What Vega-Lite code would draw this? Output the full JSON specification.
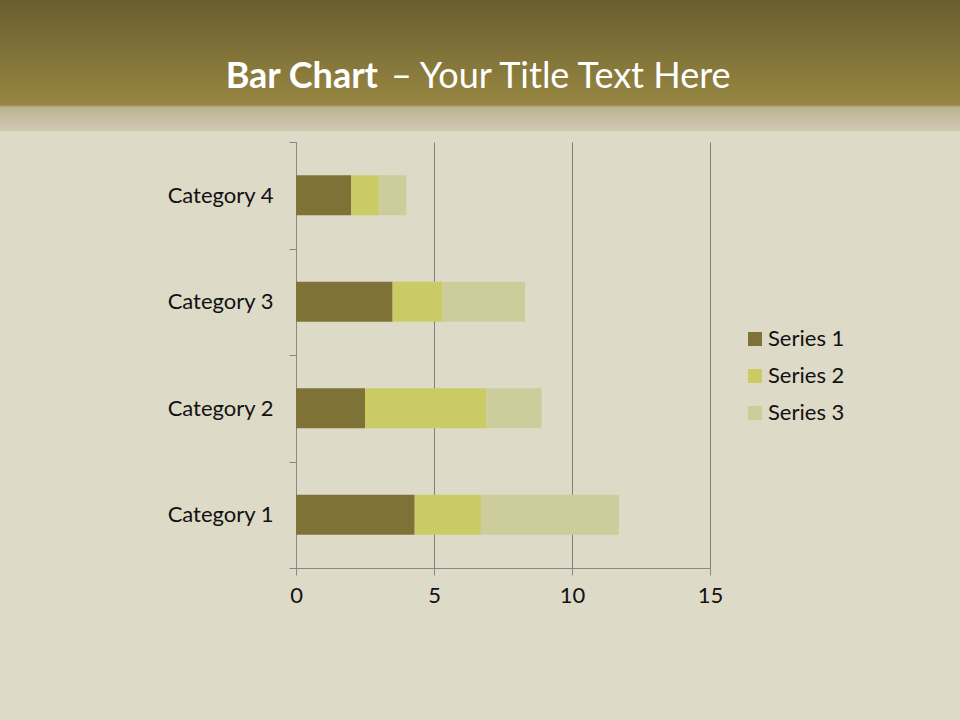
{
  "$schema": "https://vega.github.io/schema/vega-lite/v6.json",
  "background": "#dedac8",
  "padding": {"left": 0, "top": 0, "right": 0, "bottom": 115},
  "spacing": 0,
  "config": {"view": {"stroke": null}, "font": "Lato"},
  "resolve": {"legend": {"color": "independent"}},
  "vconcat": [
    {
      "width": 960,
      "height": 131,
      "data": {"values": [{"bold": "Bar Chart", "rest": "– Your Title Text Here"}]},
      "layer": [
        {
          "mark": {"type": "rect", "fill": {"gradient": "linear", "x1": 0, "y1": 0, "x2": 0, "y2": 1, "stops": [{"offset": 0, "color": "#6a5e2f"}, {"offset": 0.8, "color": "#978742"}, {"offset": 0.82, "color": "#bcb392"}, {"offset": 1, "color": "#d0cab2"}]}},
          "encoding": {}
        },
        {
          "mark": {"type": "text", "align": "right", "baseline": "alphabetic", "dx": -102, "dy": 22, "fontSize": 36, "fontWeight": "bold", "fill": "white"},
          "encoding": {"text": {"field": "bold"}}
        },
        {
          "mark": {"type": "text", "align": "left", "baseline": "alphabetic", "dx": -89, "dy": 22, "fontSize": 36, "fill": "white"},
          "encoding": {"text": {"field": "rest"}}
        }
      ]
    },
    {
      "spacing": 0,
      "hconcat": [
        {
          "width": 166,
          "height": 426,
          "data": {"values": [{}]},
          "mark": {"type": "rect", "opacity": 0},
          "encoding": {}
        },
        {
          "width": 414,
          "height": 426,
          "data": {"values": [
            {"category": "Category 1", "series": "Series 1", "value": 4.3},
            {"category": "Category 1", "series": "Series 2", "value": 2.4},
            {"category": "Category 1", "series": "Series 3", "value": 5.0},
            {"category": "Category 2", "series": "Series 1", "value": 2.5},
            {"category": "Category 2", "series": "Series 2", "value": 4.4},
            {"category": "Category 2", "series": "Series 3", "value": 2.0},
            {"category": "Category 3", "series": "Series 1", "value": 3.5},
            {"category": "Category 3", "series": "Series 2", "value": 1.8},
            {"category": "Category 3", "series": "Series 3", "value": 3.0},
            {"category": "Category 4", "series": "Series 1", "value": 2.0},
            {"category": "Category 4", "series": "Series 2", "value": 1.0},
            {"category": "Category 4", "series": "Series 3", "value": 1.0}
          ]},
          "mark": {"type": "bar", "height": {"band": 0.375}},
          "encoding": {
            "y": {
              "field": "category", "type": "nominal",
              "sort": ["Category 4", "Category 3", "Category 2", "Category 1"],
              "scale": {"paddingInner": 0, "paddingOuter": 0},
              "axis": {"title": null, "tickBand": "extent", "tickSize": 7, "tickColor": "#888888", "domainColor": "#888888", "labelFontSize": 22, "labelColor": "#111111", "labelPadding": 16}
            },
            "x": {
              "field": "value", "type": "quantitative", "stack": "zero",
              "scale": {"domain": [0, 15], "nice": false},
              "axis": {"values": [0, 5, 10, 15], "title": null, "grid": true, "gridColor": "#7f7f7f", "tickColor": "#888888", "domainColor": "#888888", "tickSize": 7, "labelFontSize": 22, "labelPadding": 10, "labelColor": "#111111", "labelFlush": false}
            },
            "color": {
              "field": "series", "type": "nominal",
              "scale": {"domain": ["Series 1", "Series 2", "Series 3"], "range": ["#7f7237", "#cbcb66", "#cdcd9c"]},
              "legend": {"title": null, "orient": "none", "legendX": 744, "legendY": 186, "symbolType": "square", "symbolSize": 196, "symbolStrokeWidth": 0, "labelFontSize": 22, "labelColor": "#111111", "rowPadding": 15, "labelOffset": 2}
            }
          }
        }
      ]
    }
  ]
}
